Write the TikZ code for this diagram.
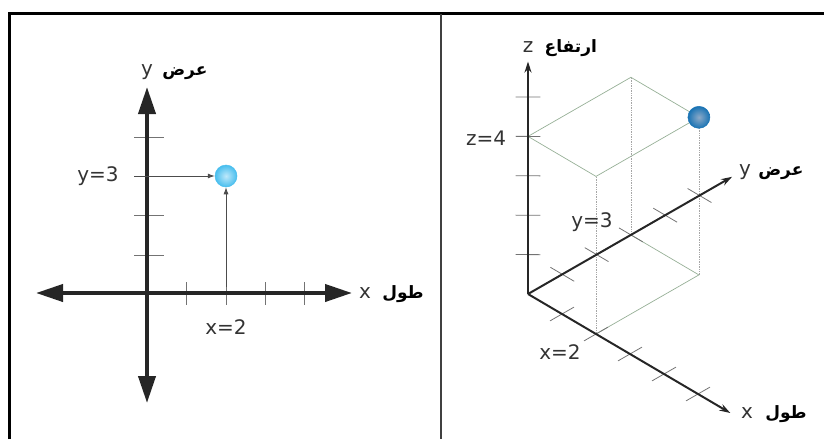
\documentclass[tikz,border=0pt]{standalone}
\usepackage{fontspec}
\setmainfont{DejaVu Sans}
\newfontfamily\arabicfont[Script=Arabic]{DejaVu Sans}
\TeXXeTstate=1
\usetikzlibrary{positioning, arrows.meta}

\definecolor{skyout}{RGB}{72,190,238}
\definecolor{skyin}{RGB}{190,232,250}
\definecolor{deepout}{RGB}{25,115,180}
\definecolor{deepin}{RGB}{140,170,200}
\definecolor{boxgreen}{RGB}{150,175,150}

\begin{document}
\begin{tikzpicture}[
  x=1pt, y=-1pt,
  border/.style={line width=3pt, black},
  divider/.style={line width=2pt, black!75},
  axisline/.style={line width=4pt, black!85, {Triangle[length=27pt,width=17pt]}-{Triangle[length=27pt,width=17pt]}},
  axisthree/.style={line width=2pt, black!85, -{Stealth[length=11pt,width=7pt]}},
  tickmark/.style={line width=0.8pt, black!55},
  guide/.style={line width=0.8pt, black!70, -{Latex[length=7pt,width=5pt]}},
  boxline/.style={line width=0.7pt, boxgreen},
  vline/.style={line width=0.7pt, black!35, densely dotted},
  lbl/.style={inner sep=0pt, text=black!80, font=\fontsize{20}{24}\selectfont},
  arlbl/.style={inner sep=0pt, font=\fontsize{17}{20}\selectfont\arabicfont\bfseries},
  lightball/.style={circle, minimum size=22pt, inner sep=0pt, inner color=skyin, outer color=skyout, draw=skyout, line width=0.5pt},
  darkball/.style={circle, minimum size=22pt, inner sep=0pt, inner color=deepin, outer color=deepout, draw=deepout, line width=0.5pt}
]
\useasboundingbox (0,0) rectangle (824,439);

% Frame
\draw[border] (9.5,439) -- (9.5,13.5) -- (824,13.5);
\draw[divider] (441,13.5) -- (441,439);

% Left: plane
\coordinate (O) at (147,293);
\coordinate (xw) at (36,293);
\coordinate (xe) at (352,293);
\coordinate (yn) at (147,87);
\coordinate (ys) at (147,403);
\foreach \x in {186,226,265,304} \draw[tickmark] (\x,282) -- (\x,305);
\foreach \y in {137,176,215,255} \draw[tickmark] (134,\y) -- (164,\y);
\draw[axisline] (xw) -- (xe);
\draw[axisline] (ys) -- (yn);

\node[lightball] (P) at (226,176) {};
\coordinate (gy) at (134,176);
\coordinate (gx) at (226,287);
\draw[guide] (gy) -- (P);
\draw[guide] (gx) -- (P);

\node[lbl] (ylab) at (147,72) {y};
\node[arlbl, right=9pt of ylab.base east, anchor=base west] (yar) {\beginR عرض\endR};
\node[lbl] (xlab) at (365,293) {x};
\node[arlbl, right=11pt of xlab.base east, anchor=base west] (xar) {\beginR طول\endR};
\node[lbl] (ythree) at (98,176) {y=3};
\node[lbl] (xtwo) at (226,327) {x=2};

% Right: space
\begin{scope}[shift={(528pt,-294pt)}, x={(34pt,-20pt)}, y={(34.3pt,19.7pt)}, z={(0pt,39.4pt)}]
  \coordinate (Q) at (0,0,0);
  \coordinate (qx) at (5.95,0,0);
  \coordinate (qy) at (0,5.95,0);
  \coordinate (qz) at (0,0,5.9);

  % box
  \draw[boxline] (0,0,4) -- (2,0,4) -- (2,3,4) -- (0,3,4) -- cycle;
  \draw[boxline] (2,0,0) -- (2,3,0) -- (0,3,0);
  \draw[vline] (2,0,0) -- (2,0,4);
  \draw[vline] (0,3,0) -- (0,3,4);
  \draw[vline] (2,3,0) -- (2,3,4);

  % ticks
  \foreach \i in {1,...,5} {
    \draw[tickmark] (\i,-0.35,0) -- (\i,0.35,0);
    \draw[tickmark] (-0.35,\i,0) -- (0.35,\i,0);
    \draw[tickmark] (-0.18,-0.18,\i) -- (0.18,0.18,\i);
  }

  \draw[axisthree] (Q) -- (qx);
  \draw[axisthree] (Q) -- (qy);
  \draw[axisthree] (Q) -- (qz);

  \node[darkball] (R) at (2,3,4) {};
\end{scope}

\node[lbl] (zlab3) at (528,47) {z};
\node[arlbl, right=11pt of zlab3.base east, anchor=base west] (zar3) {\beginR ارتفاع\endR};
\node[lbl] (ylab3) at (745,172) {y};
\node[arlbl, right=7pt of ylab3.base east, anchor=base west] (yar3) {\beginR عرض\endR};
\node[lbl] (xlab3) at (747,413) {x};
\node[arlbl, right=12pt of xlab3.base east, anchor=base west] (xar3) {\beginR طول\endR};
\node[lbl] (zfour) at (486,138) {z=4};
\node[lbl] (ythree3) at (592,222) {y=3};
\node[lbl] (xtwo3) at (560,352) {x=2};

\end{tikzpicture}
\end{document}
